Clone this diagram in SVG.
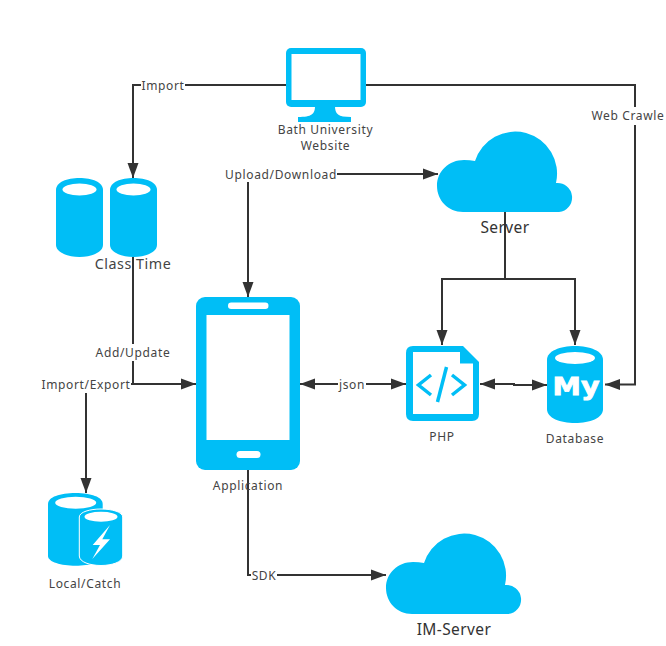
<svg xmlns="http://www.w3.org/2000/svg" width="666" height="646" viewBox="0 0 666 646">
<style>
.c{fill:none;stroke:#333;stroke-width:2}
.e{marker-end:url(#a)}
.s{marker-start:url(#b)}
.b{fill:#00BEF6}
.w{fill:#fff}
.bg{fill:#fff}
text{font-family:"Noto Sans","Open Sans","Liberation Sans",sans-serif;font-size:12px;letter-spacing:.65px;fill:#444;text-anchor:middle}
.big{font-size:15.500px;letter-spacing:.4px;fill:#333}
.cl{font-size:14.300px;letter-spacing:.55px}
.my{font-family:"DejaVu Sans",sans-serif;font-size:24px;font-weight:700;fill:#fff;stroke:#fff;stroke-width:.8;letter-spacing:0}
</style>
<defs>
<marker id="a" markerUnits="userSpaceOnUse" markerWidth="16" markerHeight="12" refX="15" refY="6" orient="auto"><path d="M0 .5L15 6L0 11.500Z" fill="#333"/></marker>
<marker id="b" markerUnits="userSpaceOnUse" markerWidth="16" markerHeight="12" refX="1" refY="6" orient="auto"><path d="M16 .5L1 6L16 11.500Z" fill="#333"/></marker>
<path id="cloud" d="M463 212C448 212 437 200 437 186C437 171 449 160 464 160Q470 160 475 161A42 42 0 0 1 556 183A14.500 14.500 0 0 1 559 212Z"/>
</defs>
<g id="connectors">
<path class="c e" d="M286 85H133V178"/>
<path class="c e" d="M366 85H635V384.500H605"/>
<path class="c e" d="M248 174V297"/>
<path class="c e" d="M248 174H438"/>
<path class="c e" d="M505 212V279H442V345"/>
<path class="c e" d="M505 279H575V345"/>
<path class="c e" d="M133 257V384H196"/>
<path class="c e" d="M133 384H86V493"/>
<path class="c e s" d="M300 384H406"/>
<path class="c e s" d="M480 384H514V385H547"/>
<path class="c e" d="M248 470V575H386"/>
</g>
<g id="edge-labels">
<rect class="bg" x="141" y="77" width="44" height="17"/><text x="163" y="90">Import</text>
<rect class="bg" x="225" y="165" width="112" height="17"/><text x="281" y="179">Upload/Download</text>
<rect class="bg" x="591" y="107" width="75" height="18"/><text x="628" y="120">Web Crawle</text>
<rect class="bg" x="95" y="344" width="76" height="17"/><text x="133" y="357">Add/Update</text>
<rect class="bg" x="41" y="376" width="90" height="17"/><text x="86" y="389">Import/Export</text>
<rect class="bg" x="338" y="376" width="28" height="17"/><text x="352" y="389">json</text>
<rect class="bg" x="251" y="567" width="26" height="17"/><text x="264" y="580">SDK</text>
</g>
<g id="website">
<rect class="b" x="286" y="48" width="80" height="59" rx="5"/>
<path class="b" d="M315 106C315 114 312 117 298 117V122H351V117C338 117 335 114 335 106Z"/>
<rect class="w" x="291.500" y="54" width="69" height="46"/>
<text x="325.500" y="134">Bath University</text>
<text x="325.500" y="150">Website</text>
</g>
<g id="class-time">
<path class="b" d="M56 190C56 182 67 178 79.500 178S103 182 103 190V245C103 252 92 257 79.500 257S56 252 56 245Z"/>
<ellipse class="w" cx="79.500" cy="189.500" rx="17" ry="6"/>
<path class="b" d="M110 190C110 182 121 178 133.500 178S157 182 157 190V245C157 252 146 257 133.500 257S110 252 110 245Z"/>
<ellipse class="w" cx="133.500" cy="189.500" rx="17" ry="6"/>
<text class="cl" x="133" y="269">Class Time</text>
</g>
<g id="server">
<use href="#cloud" class="b"/>
<text class="big" x="505" y="233">Server</text>
</g>
<g id="application">
<rect class="b" x="196" y="297" width="104" height="173" rx="9"/>
<rect class="w" x="206.500" y="315" width="83" height="125"/>
<rect class="w" x="228" y="302.500" width="40.500" height="6.500" rx="3.200"/>
<rect class="w" x="236.500" y="451" width="24" height="7" rx="3.500"/>
<text x="248" y="490">Application</text>
</g>
<g id="php">
<path class="b" d="M413 346H463L479 362V414Q479 421 472 421H413Q406 421 406 414V353Q406 346 413 346Z"/>
<path class="w" d="M413 352H460V363.500H473V414H413Z"/>
<path fill="none" stroke="#00BEF6" stroke-width="3.500" d="M431 375L418.500 385L431 395M452 375L464.500 385L452 395"/>
<path fill="none" stroke="#00BEF6" stroke-width="3.500" d="M446.500 367L437.500 402"/>
<text x="442" y="441">PHP</text>
</g>
<g id="database">
<path class="b" d="M547 360C547 351 560 346 575 346S603 351 603 360V409C603 418 590 423 575 423S547 418 547 409Z"/>
<ellipse class="w" cx="575" cy="358" rx="20" ry="6"/>
<text class="my" x="576" y="395" textLength="47" lengthAdjust="spacingAndGlyphs">My</text>
<text x="575" y="443">Database</text>
</g>
<g id="local-catch">
<path class="b" d="M48 504C48 497 60 493 75.500 493S102.700 497 102.700 504V556C102.700 562 90 565.700 75.500 565.700S48 562 48 556Z"/>
<ellipse class="w" cx="75.700" cy="502.700" rx="20.500" ry="6"/>
<path class="b" stroke="#fff" stroke-width="1" d="M79.300 517C79.300 512 90 509 101 509S122.700 512 122.700 517V556C122.700 562 112 565.500 101 565.500S79.300 562 79.300 556Z"/>
<ellipse class="w" cx="101" cy="516.700" rx="16.500" ry="5"/>
<path class="w" d="M110 525L92.700 545H100L92.300 559L110 539.300H102.300Z"/>
<text x="85" y="588">Local/Catch</text>
</g>
<g id="im-server">
<use href="#cloud" class="b" x="-51" y="402"/>
<text class="big" x="454" y="635">IM-Server</text>
</g>
</svg>
